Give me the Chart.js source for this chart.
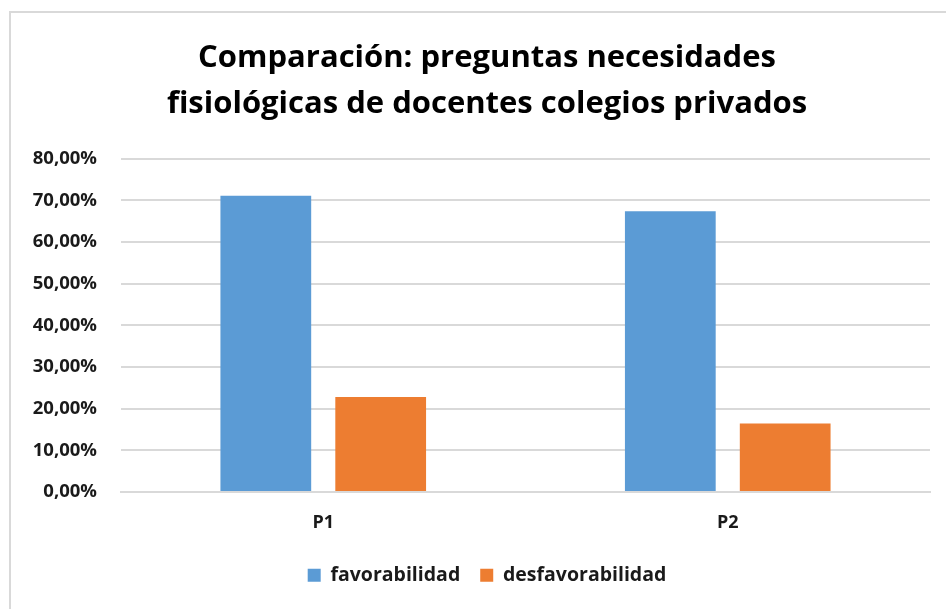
<!DOCTYPE html>
<html>
<head>
<meta charset="utf-8">
<script src="https://cdn.jsdelivr.net/npm/chart.js@4"></script>
<style>
    html, body { margin: 0; padding: 0; background: #fff; overflow: hidden; }
    #wrap { position: relative; width: 946px; height: 609px; }
    #frame { position: absolute; left: 9px; top: 11px; width: 1000px; height: 700px; border: 2px solid #d9d9d9; box-sizing: border-box; }
    canvas { position: absolute; left: 0; top: 0; }
</style>
</head>
<body>
<div id="wrap">
    <div id="frame"></div>
    <canvas id="chart" width="946" height="609"></canvas>
</div>
<script>
// Datos del gráfico
const categories = ['P1', 'P2'];
const favorabilidad = [71.1, 67.4];
const desfavorabilidad = [22.8, 16.4];
const titleLines = ['Comparación: preguntas necesidades', 'fisiológicas de docentes colegios privados'];

const font = '"Open Sans", Lato, sans-serif';

// En el original el título y la leyenda están centrados en el marco, no en el lienzo
const shiftBoxes = {
    id: 'shiftBoxes',
    afterLayout(chart) {
        [chart.titleBlock, chart.legend].forEach((box) => {
            if (box) { box.left += 17; box.right += 17; }
        });
    }
};

new Chart(document.getElementById('chart'), {
    type: 'bar',
    data: {
        labels: categories,
        datasets: [
            {
                label: 'favorabilidad',
                data: favorabilidad,
                backgroundColor: '#5B9BD5'
            },
            {
                label: 'desfavorabilidad',
                data: desfavorabilidad,
                backgroundColor: '#ED7D31'
            }
        ]
    },
    options: {
        responsive: false,
        animation: false,
        layout: { padding: { left: 10, right: 16, top: 35, bottom: 14 } },
        datasets: {
            bar: { categoryPercentage: 0.568, barPercentage: 0.79 }
        },
        scales: {
            x: {
                grid: { display: false },
                border: { color: '#d9d9d9', width: 2 },
                ticks: { color: '#1a1a1a', padding: 12, font: { family: font, size: 18, weight: 'bold' } }
            },
            y: {
                min: 0,
                max: 80,
                grid: { color: '#d9d9d9', lineWidth: 2, drawTicks: false },
                border: { display: false },
                afterFit: (scale) => { scale.width = 111; },
                ticks: {
                    stepSize: 10,
                    padding: 24,
                    color: '#1a1a1a',
                    font: { family: font, size: 18.5, weight: 'bold' },
                    callback: (v) => v.toFixed(2).replace('.', ',') + '%'
                }
            }
        },
        plugins: {
            title: {
                display: true,
                text: titleLines,
                color: '#000',
                font: { family: font, size: 31, weight: 'bold', lineHeight: 1.48 },
                padding: { top: 0, bottom: 32 }
            },
            legend: {
                position: 'bottom',
                labels: {
                    color: '#1a1a1a',
                    boxWidth: 13,
                    boxHeight: 13,
                    padding: 20,
                    font: { family: font, size: 19.5, weight: 'bold' }
                }
            },
            tooltip: { enabled: false }
        }
    },
    plugins: [shiftBoxes]
});
</script>
</body>
</html>
